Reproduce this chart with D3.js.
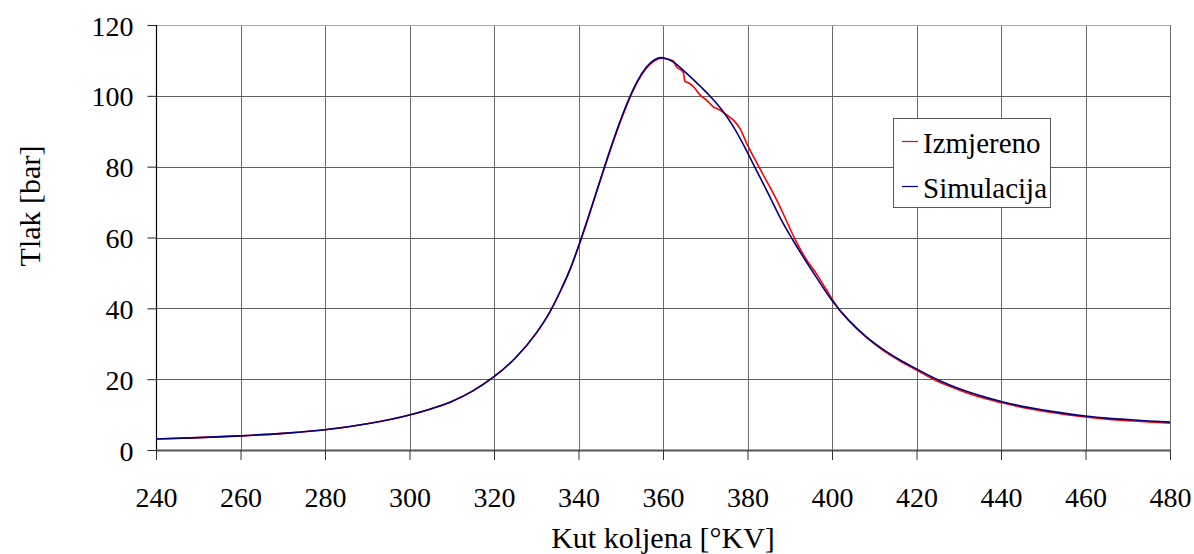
<!DOCTYPE html>
<html>
<head>
<meta charset="utf-8">
<script src="https://cdn.jsdelivr.net/npm/d3@7"></script>
<style>
  html, body { margin: 0; padding: 0; background: #fff; }
  svg { display: block; }
</style>
</head>
<body>
<svg id="chart" width="1194" height="554"></svg>
<script>
// ---- Data ----
const xTicks = [240, 260, 280, 300, 320, 340, 360, 380, 400, 420, 440, 460, 480];
const yTicks = [0, 20, 40, 60, 80, 100, 120];
const seriesNames = ["Izmjereno", "Simulacija"];

// Simulacija (blue)
const simAngle = [240, 250, 260, 270, 280, 290, 300, 305, 310, 315, 320, 325, 330, 333, 336, 338, 340, 342, 344, 346, 348, 350, 352, 354, 356, 358, 359.5, 361, 363, 365, 367, 369, 371, 373, 375, 377, 379, 381, 383, 385, 388, 392, 396, 400, 404, 408, 412, 416, 420, 424, 428, 432, 436, 440, 444, 448, 452, 456, 460, 465, 470, 475, 480];
const simP     = [3.1, 3.5, 4.0, 4.7, 5.7, 7.4, 9.9, 11.6, 13.7, 16.7, 20.7, 25.9, 33.0, 38.5, 45.6, 51.0, 57.5, 64.6, 72.0, 79.4, 86.6, 93.3, 99.3, 104.3, 108.0, 110.2, 110.8, 110.4, 109.1, 107.0, 104.8, 102.5, 100.1, 97.4, 94.3, 90.6, 86.3, 81.6, 76.9, 72.2, 65.0, 56.8, 49.3, 42.2, 36.6, 32.1, 28.5, 25.5, 22.9, 20.4, 18.3, 16.5, 15.0, 13.7, 12.6, 11.7, 10.9, 10.2, 9.6, 9.0, 8.6, 8.2, 7.9];

// Izmjereno (red)
const measAngle = [240, 250, 260, 270, 280, 290, 300, 305, 310, 315, 320, 325, 330, 333, 336, 338, 340, 342, 344, 346, 348, 350, 352, 354, 356, 358, 359.8, 361, 362.4, 363.2, 364.8, 365.2, 366, 367.2, 368.8, 370.3, 371.9, 373.5, 375.1, 376.6, 378.2, 379.8, 382.9, 386.9, 389, 391.2, 393.5, 396.4, 398.5, 400.9, 402, 404, 408, 412, 416, 420, 424, 428, 432, 436, 440, 444, 448, 452, 456, 460, 465, 470, 475, 480];
const measP     = [3.1, 3.5, 4.0, 4.7, 5.7, 7.4, 9.9, 11.6, 13.7, 16.7, 20.7, 25.9, 33.0, 38.5, 45.6, 51.0, 57.4, 64.4, 71.8, 79.2, 86.3, 93.0, 99.0, 104.0, 107.7, 109.9, 110.6, 110.4, 109.9, 108.2, 106.6, 104.0, 103.7, 102.6, 100.2, 98.8, 96.9, 96.0, 94.6, 93.2, 90.8, 86.6, 79.5, 70.6, 65.3, 59.6, 54.6, 49.6, 45.6, 41.0, 39.2, 36.5, 31.9, 28.2, 25.2, 22.6, 20.0, 17.9, 16.1, 14.6, 13.4, 12.3, 11.4, 10.6, 9.9, 9.3, 8.7, 8.3, 7.9, 7.6];

// ---- Layout ----
const FONT = "Liberation Serif";
const svg = d3.select("#chart");
const pL = 156, pR = 1170, pT = 25, pB = 450;

const x = d3.scaleLinear().domain([240, 480]).range([pL, pR]);
const y = d3.scaleLinear().domain([0, 120]).range([pB, pT]);

// Grid
const grid = svg.append("g");
grid.selectAll(".vg").data(xTicks.slice(1)).enter().append("line")
  .attr("x1", d => Math.round(x(d)) + 0.5).attr("x2", d => Math.round(x(d)) + 0.5)
  .attr("y1", pT).attr("y2", pB)
  .attr("stroke", "#6a6a6a").attr("stroke-width", 1);
grid.selectAll(".hg").data(yTicks.slice(1)).enter().append("line")
  .attr("y1", d => Math.round(y(d)) + 0.5).attr("y2", d => Math.round(y(d)) + 0.5)
  .attr("x1", pL).attr("x2", pR)
  .attr("stroke", d => d === 120 ? "#a8a8a8" : "#5e5e5e").attr("stroke-width", 1);

// Axes
const yAxis = d3.axisLeft(y).tickValues(yTicks).tickSize(9).tickPadding(14).tickFormat(d3.format("d"));
const gy = svg.append("g").attr("transform", `translate(${pL + 0.5},0)`).call(yAxis);
gy.attr("font-family", FONT).attr("font-size", 28);
gy.select(".domain").attr("stroke", "#000").attr("stroke-width", 1.2).attr("d", `M0,${pT}V${pB}`);
gy.selectAll(".tick line").attr("stroke", "#222");
gy.selectAll(".tick text").attr("font-family", FONT).style("font-family", FONT)
  .style("font-size", "28px").attr("fill", "#000").attr("dy", "0.36em");

const xAxis = d3.axisBottom(x).tickValues(xTicks).tickSize(10).tickPadding(27).tickFormat(d3.format("d"));
const gx = svg.append("g").attr("transform", `translate(0,${pB})`).call(xAxis);
gx.attr("font-family", FONT).attr("font-size", 28);
gx.select(".domain").attr("stroke", "#555").attr("stroke-width", 1.8).attr("d", `M${pL},0.5H${pR}`);
gx.selectAll(".tick line").attr("stroke", "#333");
gx.selectAll(".tick text").attr("font-family", FONT).style("font-family", FONT)
  .style("font-size", "28px").attr("fill", "#000").attr("dy", "0.71em");

// Lines
const simData = simAngle.map((a, i) => [a, simP[i]]);
const measData = measAngle.map((a, i) => [a, measP[i]]);
const line = d3.line().x(d => x(d[0])).y(d => y(d[1])).curve(d3.curveMonotoneX);

svg.append("path").datum(measData).attr("d", line)
  .attr("fill", "none").attr("stroke", "#ff0000").attr("stroke-width", 1.6);
svg.append("path").datum(simData).attr("d", line)
  .attr("fill", "none").attr("stroke", "#000080").attr("stroke-width", 1.6);

// Axis titles
svg.append("text").attr("x", (pL + pR) / 2).attr("y", 548)
  .attr("text-anchor", "middle").attr("font-family", FONT).style("font-family", FONT)
  .style("font-size", "30px").attr("fill", "#000").text("Kut koljena [°KV]");
svg.append("text").attr("transform", "translate(40,206) rotate(-90)")
  .attr("text-anchor", "middle").attr("font-family", FONT).style("font-family", FONT)
  .style("font-size", "30px").attr("fill", "#000").text("Tlak [bar]");

// Legend
const lg = svg.append("g");
lg.append("rect").attr("x", 893.5).attr("y", 118.5).attr("width", 157).attr("height", 89)
  .attr("fill", "#fff").attr("stroke", "#555").attr("stroke-width", 1);
const colors = ["#ff0000", "#000080"];
const legY = [141.5, 186.5];
seriesNames.forEach((n, i) => {
  lg.append("line").attr("x1", 902).attr("x2", 918).attr("y1", legY[i]).attr("y2", legY[i])
    .attr("stroke", colors[i]).attr("stroke-width", 1.2);
  lg.append("text").attr("x", 923).attr("y", legY[i] + 11.5)
    .attr("font-family", FONT).style("font-family", FONT)
    .style("font-size", "29px").attr("fill", "#000").text(n);
});
</script>
</body>
</html>
